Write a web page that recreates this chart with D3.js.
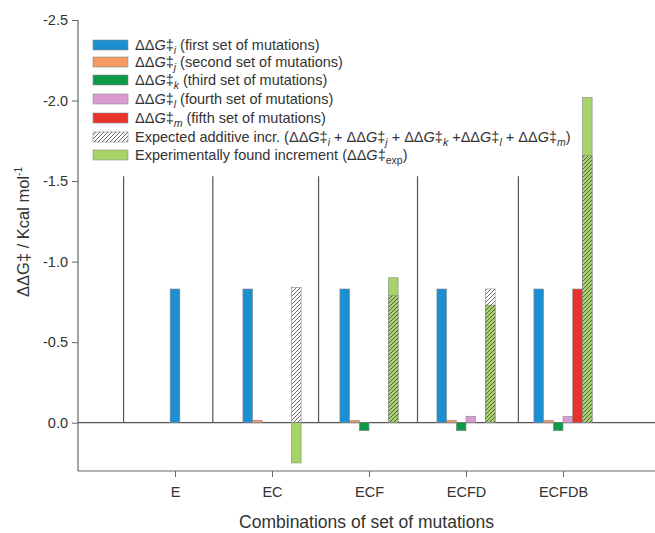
<!DOCTYPE html>
<html>
<head>
<meta charset="utf-8">
<script src="https://cdn.jsdelivr.net/npm/d3@7"></script>
<style>
  body { margin: 0; background: #fff; }
  text { font-family: "Liberation Sans", Arial, sans-serif; fill: #333; }
</style>
</head>
<body>
<script>
// canvas size
const width = 655;
const height = 533;

// data
const categories = ['E', 'EC', 'ECF', 'ECFD', 'ECFDB'];
const ddGi = [-0.83, -0.83, -0.83, -0.83, -0.83];
const ddGj = [null, -0.015, -0.015, -0.015, -0.015];
const ddGk = [null, null, 0.05, 0.05, 0.05];
const ddGl = [null, null, null, -0.04, -0.04];
const ddGm = [null, null, null, null, -0.83];
const expected = [null, -0.84, -0.79, -0.83, -1.66];
const experimental = [null, 0.25, -0.90, -0.73, -2.02];
// vertical divider lines between groups (x in category units, top value)
const dividers = [0.47, 1.39, 2.48, 3.5, 4.54];
const dividerTop = -1.53;
const yTicks = [-2.5, -2.0, -1.5, -1.0, -0.5, 0.0];

const colors = {
  i: '#1b8fd2', j: '#f59a62', k: '#0f9a4a', l: '#d89cd2', m: '#e8332b', exp: '#a6d468'
};

const margin = {left: 78, right: 0, top: 20, bottom: 62};

// x: numeric category axis 0..6, groups at 1..5
const xScale = d3.scaleLinear()
    .domain([0, 6])
    .range([margin.left, margin.left + 97 * 6]);

// y: negative values upward
const yScale = d3.scaleLinear()
    .domain([-2.5, 0.3])
    .range([margin.top, height - margin.bottom]);

const svg = d3.select('body')
    .append('svg')
    .attr('width', width)
    .attr('height', height);

// hatch pattern
const defs = svg.append('defs');
defs.append('pattern')
    .attr('id', 'hatch')
    .attr('patternUnits', 'userSpaceOnUse')
    .attr('width', 4)
    .attr('height', 4)
    .append('path')
    .attr('d', 'M-1,1 l2,-2 M0,4 l4,-4 M3,5 l2,-2')
    .attr('stroke', '#444')
    .attr('stroke-width', 0.8);

// bar geometry
const barW = 0.1; // in category units
const seriesList = [
  {key: 'i', values: ddGi, slot: 0},
  {key: 'j', values: ddGj, slot: 1},
  {key: 'k', values: ddGk, slot: 2},
  {key: 'l', values: ddGl, slot: 3},
  {key: 'm', values: ddGm, slot: 4}
];

function slotX(gi, slot) {
  // a group with a single bar is centred on its tick
  const count = seriesList.filter(s => s.values[gi] !== null).length +
      (expected[gi] !== null ? 1 : 0);
  const off = count === 1 ? -barW / 2 : (slot - 3) * barW;
  return xScale(gi + 1 + off);
}

function barRect(sel, gi, slot, v) {
  sel.attr('x', slotX(gi, slot))
    .attr('width', xScale(barW) - xScale(0))
    .attr('y', yScale(Math.min(0, v)))
    .attr('height', Math.abs(yScale(v) - yScale(0)));
}

// dividers
svg.selectAll('.divider')
    .data(dividers)
    .enter()
    .append('line')
    .attr('x1', d => xScale(d))
    .attr('x2', d => xScale(d))
    .attr('y1', yScale(dividerTop))
    .attr('y2', yScale(0))
    .attr('stroke', '#555')
    .attr('stroke-width', 1.2);

// zero line
svg.append('line')
    .attr('x1', margin.left)
    .attr('x2', width)
    .attr('y1', yScale(0))
    .attr('y2', yScale(0))
    .attr('stroke', '#555')
    .attr('stroke-width', 1.2);

// series bars
seriesList.forEach(s => {
  s.values.forEach((v, gi) => {
    if (v === null) return;
    svg.append('rect')
        .call(barRect, gi, s.slot, v)
        .attr('fill', colors[s.key])
        .attr('stroke', '#8a8a8a')
        .attr('stroke-width', 0.6);
  });
});

// experimental (under), then expected hatch overlay
experimental.forEach((v, gi) => {
  if (v === null) return;
  svg.append('rect')
      .call(barRect, gi, 5, v)
      .attr('fill', colors.exp)
      .attr('stroke', '#8a8a8a')
      .attr('stroke-width', 0.6);
});
expected.forEach((v, gi) => {
  if (v === null) return;
  svg.append('rect')
      .call(barRect, gi, 5, v)
      .attr('fill', 'url(#hatch)')
      .attr('stroke', '#8a8a8a')
      .attr('stroke-width', 0.6);
});

// axes
const yAxis = d3.axisLeft(yScale)
    .tickValues(yTicks)
    .tickFormat(d => d3.format('.1f')(d).replace('−', '-'))
    .tickSize(6)
    .tickPadding(4);
const gy = svg.append('g')
    .attr('transform', 'translate(' + margin.left + ',0)')
    .call(yAxis);

const xAxis = d3.axisBottom(xScale)
    .tickValues([1, 2, 3, 4, 5])
    .tickFormat(d => categories[d - 1])
    .tickSize(6)
    .tickPadding(10);
const gx = svg.append('g')
    .attr('transform', 'translate(0,' + (height - margin.bottom) + ')')
    .call(xAxis);

[gx, gy].forEach(g => {
  g.select('.domain').attr('stroke', '#666').attr('stroke-width', 1.2);
  g.selectAll('.tick line').attr('stroke', '#666');
  g.selectAll('.tick text')
      .attr('font-size', 14.5)
      .attr('font-family', '"Liberation Sans", Arial, sans-serif')
      .attr('fill', '#333');
});
gy.select('.domain').attr('d', 'M0,' + yScale(-2.5) + 'V' + yScale(0.3));
gx.select('.domain').attr('d', 'M' + margin.left + ',0H' + width);

// axis titles
svg.append('text')
    .attr('x', (margin.left + width) / 2)
    .attr('y', 528)
    .attr('text-anchor', 'middle')
    .attr('font-size', 17.5)
    .text('Combinations of set of mutations');

const yt = svg.append('text')
    .attr('transform', 'translate(29,232) rotate(-90)')
    .attr('text-anchor', 'middle')
    .attr('font-size', 16.5);
yt.append('tspan').text('ΔΔG‡ / Kcal mol');
yt.append('tspan').attr('font-size', 10).attr('dy', -7).text('-1');

// legend
const legendItems = [
  {fill: colors.i, sub: 'i', rest: ' (first set of mutations)'},
  {fill: colors.j, sub: 'j', rest: ' (second set of mutations)'},
  {fill: colors.k, sub: 'k', rest: ' (third set of mutations)'},
  {fill: colors.l, sub: 'l', rest: ' (fourth set of mutations)'},
  {fill: colors.m, sub: 'm', rest: ' (fifth set of mutations)'},
  {fill: 'url(#hatch)', expected: true},
  {fill: colors.exp, experimental: true}
];

// writes ΔΔG‡ with a subscript, then the following text back on the baseline
function dG(t, sub, italicSub, after) {
  t.append('tspan').text('ΔΔ');
  t.append('tspan').attr('font-style', 'italic').text('G');
  t.append('tspan').text('‡');
  t.append('tspan')
      .attr('font-size', 10.5)
      .attr('font-style', italicSub ? 'italic' : null)
      .attr('dy', 4)
      .text(sub);
  t.append('tspan').attr('dy', -4).text(after);
}

const legendRowY = [45, 62, 80, 99, 118, 137, 155];
const lg = svg.append('g');
legendItems.forEach((it, i) => {
  const cy = legendRowY[i];
  lg.append('rect')
      .attr('x', 93)
      .attr('y', cy - 5)
      .attr('width', 35)
      .attr('height', 10)
      .attr('fill', it.fill)
      .attr('stroke', '#8a8a8a')
      .attr('stroke-width', 0.6);
  const t = lg.append('text')
      .attr('x', 135)
      .attr('y', cy + 4.5)
      .attr('font-size', 14.5);
  if (it.expected) {
    t.append('tspan').text('Expected additive incr. (');
    dG(t, 'i', true, ' + ');
    dG(t, 'j', true, ' + ');
    dG(t, 'k', true, ' +');
    dG(t, 'l', true, ' + ');
    dG(t, 'm', true, ')');
  } else if (it.experimental) {
    t.append('tspan').text('Experimentally found increment (');
    dG(t, 'exp', false, ')');
  } else {
    dG(t, it.sub, true, it.rest);
  }
});
</script>
</body>
</html>
